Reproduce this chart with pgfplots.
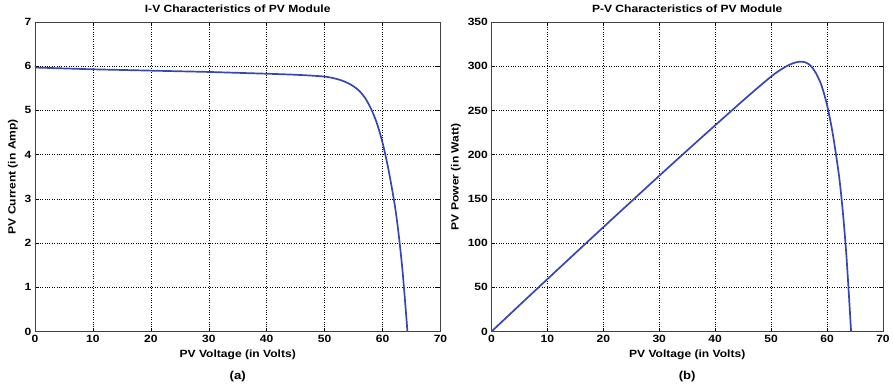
\documentclass[border=0pt]{standalone}
\usepackage{fontspec}
\setmainfont{Liberation Sans}[FakeStretch=1.15]
\setsansfont{Liberation Sans}[FakeStretch=1.15]
\usepackage{pgfplots}
\usepackage{pgfplotstable}
\pgfplotsset{compat=1.18}
\definecolor{curve}{RGB}{55,70,180}
\pgfplotstableread{
V I
0 5.97
5 5.95
10 5.93
15 5.915
20 5.90
25 5.885
30 5.87
35 5.85
40 5.83
44 5.812
46 5.80
48 5.785
50 5.765
51 5.745
52 5.715
53 5.675
54 5.62
55 5.545
56 5.44
57 5.28
58 5.04
59 4.72
60 4.27
61 3.68
62 2.95
62.5 2.50
63 1.95
63.5 1.30
64 0.50
64.3 0
}\ivdata
\pgfplotstableread{
V P
0 0
5 29.75
10 59.3
15 88.7
20 118.0
25 147.1
30 176.1
35 204.8
40 233.2
44 255.7
46 266.8
48 277.7
50 288.3
51 293.0
52 297.2
53 300.8
54 303.5
55 305.0
56 304.6
57 301.0
58 292.3
59 278.5
60 256.2
61 224.5
62 182.9
62.5 156.3
63 122.9
63.5 82.6
64 32.0
64.3 0
}\pvdata
\pgfplotsset{mystyle/.style={
  scale only axis, height=310pt,
  xmin=0, xmax=70, xtick={0,10,...,70},
  grid=major, grid style={black, dotted, line width=0.5pt},
  tick align=inside, major tick length=4pt,
  tick style={black, line width=0.5pt},
  axis line style={black!75, line width=0.8pt},
  tick label style={font=\bfseries\fontsize{10.5}{12}\selectfont},
  label style={font=\bfseries\fontsize{10.5}{12}\selectfont},
  title style={font=\bfseries\fontsize{10.5}{12}\selectfont},
  /pgf/number format/assume math mode=true,
}}
\begin{document}
\begin{tikzpicture}
\begin{axis}[mystyle, name=left, at={(0pt,0pt)}, anchor=south west,
  width=406pt, ymin=0, ymax=7, ytick={0,1,...,7},
  title={I-V Characteristics of PV Module},
  xlabel={PV Voltage (in Volts)}, ylabel={PV Current (in Amp)}]
\addplot[curve, line width=1.7pt, smooth, no marks] table[x=V,y=I] {\ivdata};
\end{axis}
\begin{axis}[mystyle, name=right, at={(457pt,0pt)}, anchor=south west,
  width=392pt, ymin=0, ymax=350, ytick={0,50,...,350},
  title={P-V Characteristics of PV Module},
  xlabel={PV Voltage (in Volts)}, ylabel={PV Power (in Watt)}]
\addplot[curve, line width=1.7pt, smooth, no marks] table[x=V,y=P] {\pvdata};
\end{axis}
\node[font=\bfseries\fontsize{11.5}{13}\selectfont] at ([yshift=-45pt]left.south) {(a)};
\node[font=\bfseries\fontsize{11.5}{13}\selectfont] at ([yshift=-45pt]right.south) {(b)};
\path (-35pt,-55pt) rectangle (858pt,332pt);
\end{tikzpicture}
\end{document}
